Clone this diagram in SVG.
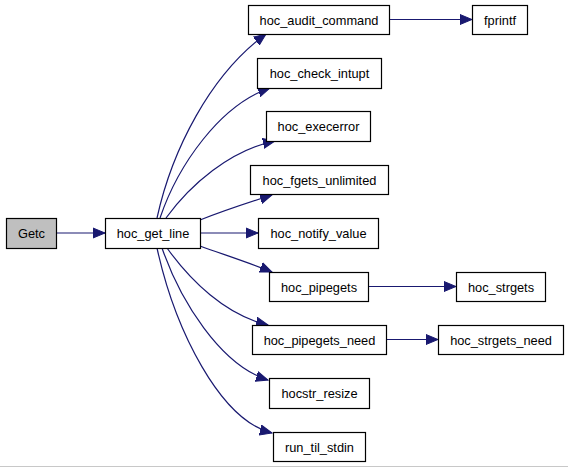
<svg xmlns="http://www.w3.org/2000/svg" width="568" height="467" viewBox="0 0 568 467">
<style>
.n rect{fill:#fff;stroke:#000;stroke-width:1.2}
.n text{font-family:"Liberation Sans",Arial,sans-serif;font-size:12.8px;fill:#000;text-anchor:middle}
#edges path{fill:none;stroke:#191970;stroke-width:1.2}
</style>
<defs>
<marker id="ah" markerUnits="userSpaceOnUse" markerWidth="14" markerHeight="12" refX="12" refY="5" orient="auto" viewBox="0 0 14 10">
<path d="M0,0 L12,5 L0,10 Z" fill="#191970" stroke="#191970"/>
</marker>
</defs>
<rect width="568" height="467" fill="#fff"/>
<line x1="0" y1="466.5" x2="568" y2="466.5" stroke="#c8c8c8"/>
<g id="edges">
<path d="M56,233 L105,233" marker-end="url(#ah)"/>
<path d="M157,218 C172,150 210,75 266,34" marker-end="url(#ah)"/>
<path d="M160,218 C178,165 220,105 270,88" marker-end="url(#ah)"/>
<path d="M166,218 C190,185 230,150 275,141" marker-end="url(#ah)"/>
<path d="M200,220 C225,210 250,202 272,195" marker-end="url(#ah)"/>
<path d="M200,233 L258,233" marker-end="url(#ah)"/>
<path d="M200,246 C225,255 250,263 272,272" marker-end="url(#ah)"/>
<path d="M167,248 C190,280 225,315 268,325" marker-end="url(#ah)"/>
<path d="M162,248 C180,300 220,365 268,380" marker-end="url(#ah)"/>
<path d="M157,248 C175,330 220,420 272,433" marker-end="url(#ah)"/>
<path d="M389,19.5 L472,19.5" marker-end="url(#ah)"/>
<path d="M368,286.5 L456,286.5" marker-end="url(#ah)"/>
<path d="M386,339.5 L438,339.5" marker-end="url(#ah)"/>
</g>
<g id="Getc" class="n"><rect x="6.5" y="218.5" width="50" height="30" style="fill:#bfbfbf"/><text x="31.5" y="238">Getc</text></g>
<g id="hoc_get_line" class="n"><rect x="105.5" y="218.5" width="95" height="30"/><text x="153" y="238">hoc_get_line</text></g>
<g id="hoc_audit_command" class="n"><rect x="248.5" y="5.5" width="141" height="29"/><text x="319" y="24.5">hoc_audit_command</text></g>
<g id="fprintf" class="n"><rect x="472.5" y="5.5" width="55" height="29"/><text x="500" y="24.5">fprintf</text></g>
<g id="hoc_check_intupt" class="n"><rect x="257.5" y="58.5" width="124" height="30"/><text x="319.5" y="78">hoc_check_intupt</text></g>
<g id="hoc_execerror" class="n"><rect x="266.5" y="111.5" width="104" height="30"/><text x="318.5" y="131">hoc_execerror</text></g>
<g id="hoc_fgets_unlimited" class="n"><rect x="250.5" y="165.5" width="138" height="29"/><text x="319.5" y="184.5">hoc_fgets_unlimited</text></g>
<g id="hoc_notify_value" class="n"><rect x="258.5" y="218.5" width="120" height="30"/><text x="318.5" y="238">hoc_notify_value</text></g>
<g id="hoc_pipegets" class="n"><rect x="269.5" y="272.5" width="99" height="29"/><text x="319" y="291.5">hoc_pipegets</text></g>
<g id="hoc_strgets" class="n"><rect x="456.5" y="272.5" width="89" height="29"/><text x="501" y="291.5">hoc_strgets</text></g>
<g id="hoc_pipegets_need" class="n"><rect x="252.5" y="325.5" width="134" height="29"/><text x="319.5" y="344.5">hoc_pipegets_need</text></g>
<g id="hoc_strgets_need" class="n"><rect x="438.5" y="325.5" width="125" height="29"/><text x="501" y="344.5">hoc_strgets_need</text></g>
<g id="hocstr_resize" class="n"><rect x="269.5" y="378.5" width="100" height="30"/><text x="319.5" y="398">hocstr_resize</text></g>
<g id="run_til_stdin" class="n"><rect x="273.5" y="432.5" width="92" height="29"/><text x="319.5" y="451.5">run_til_stdin</text></g>
</svg>
